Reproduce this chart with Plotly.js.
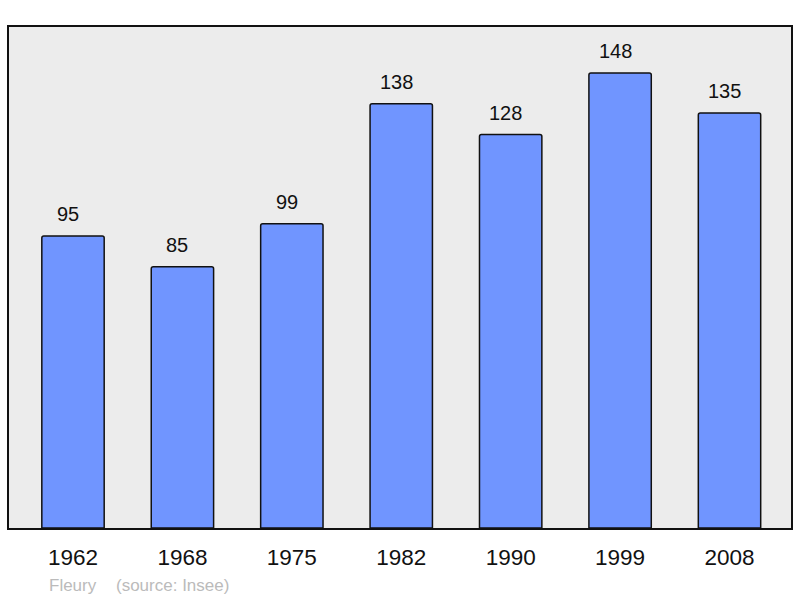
<!DOCTYPE html>
<html>
<head>
<meta charset="utf-8">
<script src="https://cdn.plot.ly/plotly-3.0.1.min.js"></script>
<style>html,body{margin:0;padding:0;background:#fff}#chart{width:800px;height:598px}</style>
</head>
<body>
<div id="chart"></div>
<script>
const years = ["1962", "1968", "1975", "1982", "1990", "1999", "2008"];
const population = [95, 85, 99, 138, 128, 148, 135];
const commune = "Fleury";
const source = "(source: Insee)";

const labelAnnotations = years.map((y, i) => ({
  x: i, y: population[i], xref: 'x', yref: 'y',
  text: String(population[i]), showarrow: false,
  yanchor: 'bottom', yshift: 9, xshift: -5,
  font: {family: 'Liberation Sans, Arial, sans-serif', size: 20, color: '#111'}
}));

const data = [{
  type: 'bar', x: years, y: population,
  width: 0.57,
  marker: {color: '#7095ff', line: {color: '#111', width: 1.5}, cornerradius: 2},
  hoverinfo: 'none'
}];

const layout = {
  width: 800, height: 598,
  margin: {l: 9, r: 9, t: 27, b: 70},
  paper_bgcolor: '#ffffff', plot_bgcolor: '#ececec',
  showlegend: false,
  xaxis: {
    type: 'category', range: [-0.585, 6.562],
    showgrid: false, zeroline: false,
    showline: true, mirror: true, linecolor: '#111', linewidth: 2,
    ticks: 'outside', ticklen: 8, tickcolor: 'rgba(0,0,0,0)',
    tickfont: {family: 'Liberation Sans, Arial, sans-serif', size: 22.5, color: '#111'}
  },
  yaxis: {
    range: [0, 163], showgrid: false, zeroline: false,
    showticklabels: false, ticks: '',
    showline: true, mirror: true, linecolor: '#111', linewidth: 2
  },
  annotations: labelAnnotations.concat([
    {xref: 'paper', yref: 'paper', x: (47 - 9) / 782, y: -(585 - 528) / 501,
     xanchor: 'left', yanchor: 'middle', text: commune, showarrow: false,
     font: {family: 'Liberation Sans, Arial, sans-serif', size: 17, color: '#bbbbbb'}},
    {xref: 'paper', yref: 'paper', x: (114 - 9) / 782, y: -(585 - 528) / 501,
     xanchor: 'left', yanchor: 'middle', text: source, showarrow: false,
     font: {family: 'Liberation Sans, Arial, sans-serif', size: 17, color: '#bbbbbb'}}
  ])
};

Plotly.newPlot('chart', data, layout, {staticPlot: true, displayModeBar: false});
</script>
</body>
</html>
